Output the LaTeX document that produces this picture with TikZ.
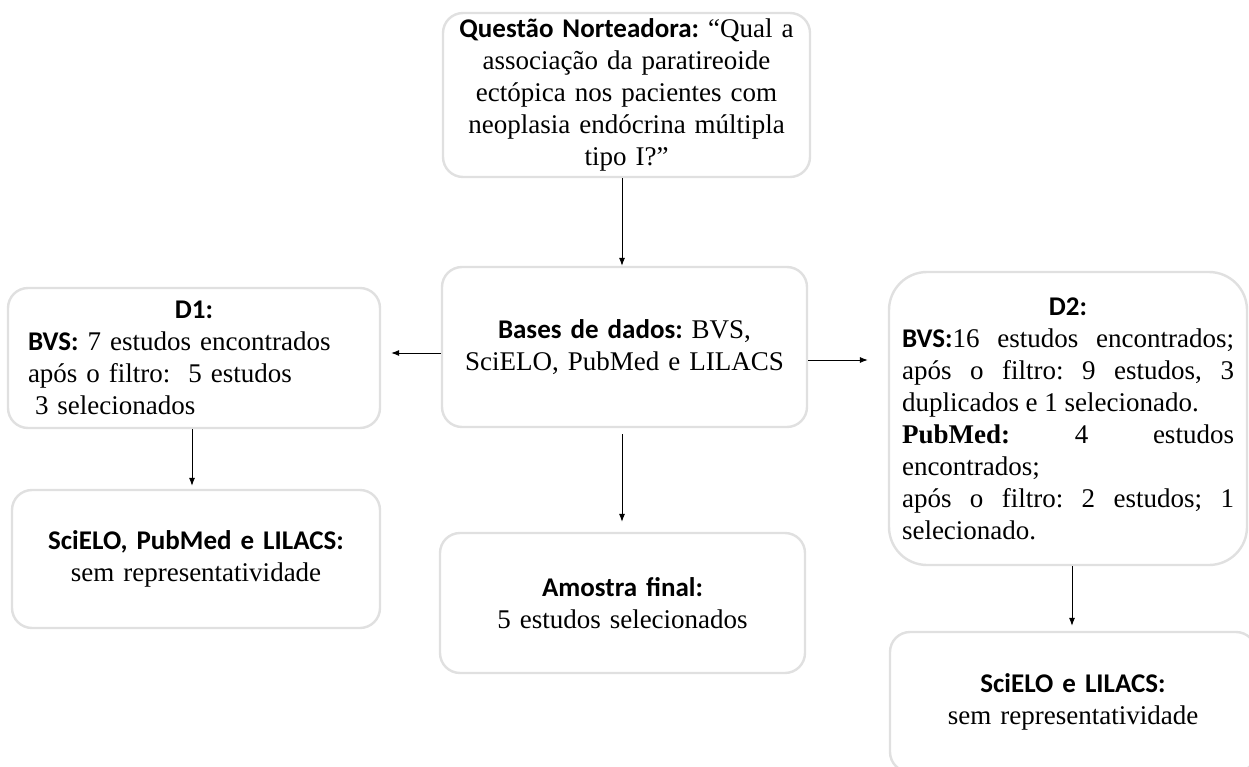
\documentclass[tikz,border=0pt]{standalone}
\usepackage{fontspec}
\setmainfont{Liberation Serif}
\newfontfamily\calibri{Carlito}
\usetikzlibrary{arrows.meta}
\newcommand{\cbold}[1]{{\calibri\bfseries #1}}
\frenchspacing

\begin{document}
\begin{tikzpicture}[x=1pt,y=1pt,
    box/.style={draw=black!12,line width=2.4pt,fill=white,rounded corners=20pt,
        inner sep=0pt,font=\fontsize{27}{32}\selectfont},
    arr/.style={-{Latex[length=8pt,width=6pt]},line width=0.8pt}]
        \useasboundingbox (0,0) rectangle (1249,-767);
        % boxes
        \node[box,minimum width=367,minimum height=164,text width=350,align=center] (quest) at (626.5,-95)
            {\cbold{Questão Norteadora:} “Qual a\\ associação da paratireoide\\ ectópica nos pacientes com\\ neoplasia endócrina múltipla\\ tipo I?”};
        \node[box,minimum width=365,minimum height=160,text width=340,align=center] (bases) at (624.5,-347)
            {\cbold{Bases de dados:} BVS,\\ SciELO, PubMed e LILACS};
        \node[box,minimum width=365,minimum height=140,text width=340,align=center] (amostra) at (622.5,-603)
            {\cbold{Amostra final:}\\ 5 estudos selecionados};
        \node[box,minimum width=372,minimum height=140,text width=332,align=left] (d1) at (194,-358)
            {{\centering\cbold{D1:}\par}\cbold{BVS:} 7 estudos encontrados\\ após o filtro:\ \ 5 estudos\\ \hspace*{7pt}3 selecionados};
        \node[box,minimum width=368,minimum height=138,text width=340,align=center] (scielo1) at (196,-559)
            {\cbold{SciELO, PubMed e LILACS:}\\ sem representatividade};
        \node[box,rounded corners=38pt,minimum width=358,minimum height=293,text width=332,align=justify] (d2) at (1068,-418.5)
            {{\centering\cbold{D2:}\par}\cbold{BVS:}16 estudos encontrados; após o filtro: 9 estudos, 3\linebreak duplicados e 1 selecionado.\par
             \textbf{PubMed:} 4 estudos\linebreak encontrados;\par
             após o filtro: 2 estudos; 1\linebreak selecionado.};
        \node[box,minimum width=366,minimum height=140,text width=340,align=center] (scielo2) at (1073,-702)
            {\cbold{SciELO e LILACS:}\\ sem representatividade};
        % arrows
        \draw[arr] ([xshift=-4.5pt]quest.south) -- ([xshift=-2.5pt]bases.north);
        \draw[arr,shorten >=10pt] ([yshift=-6pt]bases.west) -- ([yshift=-6pt]bases.west -| d1.east);
        \draw[arr,shorten >=20pt] ([yshift=-13pt]bases.east) -- ([yshift=-13pt]bases.east -| d2.west);
        \draw[arr,shorten <=6pt,shorten >=10pt] ([xshift=-2.5pt]bases.south) -- ([xshift=-2.5pt]bases.south |- amostra.north);
        \draw[arr,shorten >=3pt] ([xshift=-2pt]d1.south) -- ([xshift=-2pt]d1.south |- scielo1.north);
        \draw[arr,shorten >=5pt] ([xshift=4pt]d2.south) -- ([xshift=4pt]d2.south |- scielo2.north);
\end{tikzpicture}
\end{document}
